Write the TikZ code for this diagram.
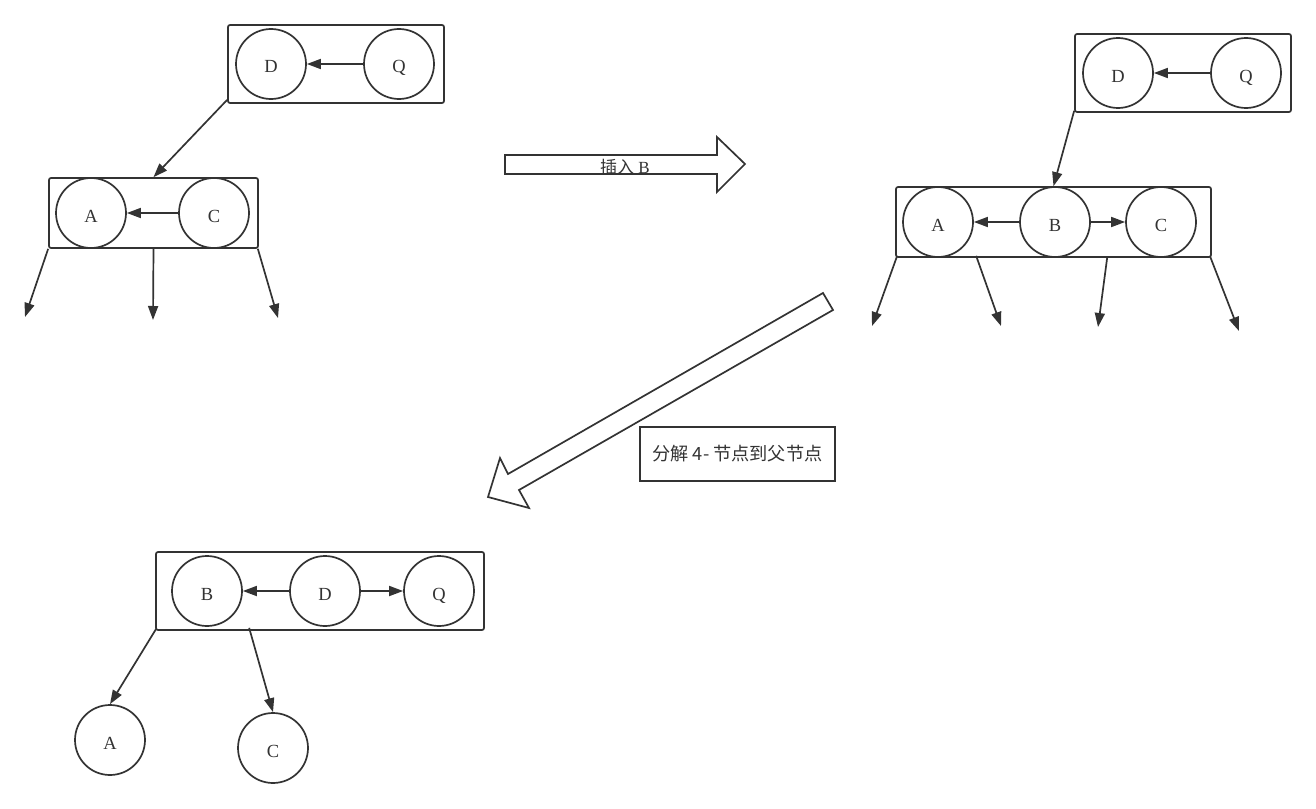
\documentclass[tikz,border=0pt]{standalone}
\usepackage{fontspec}
\setmainfont{Liberation Serif}
\newfontfamily\cjk{Noto Sans CJK SC}
\usetikzlibrary{arrows.meta,calc}
\definecolor{ink}{HTML}{333333}
\begin{document}
\begin{tikzpicture}[x=1pt,y=-1pt,
  keynode/.style={draw=ink,line width=1.7pt,circle,minimum size=70pt,inner sep=0pt,text height=18pt,text depth=0pt,font=\fontsize{18.5}{20}\selectfont,text=ink},
  group/.style={draw=ink,line width=1.7pt,rounded corners=2pt,inner sep=0pt},
  link/.style={draw=ink,line width=1.7pt,-{Triangle[length=14pt,width=10pt]}},
  bigarrow/.style={draw=ink,line width=1.7pt,fill=white,line join=miter},
  labeltext/.style={text=ink,inner sep=0pt}
]
\useasboundingbox (0,0) rectangle (1316,808);

% ---------- diagram 1 ----------
\node[group,minimum width=216pt,minimum height=78pt] (dq1) at (336,64) {};
\node[keynode] (D1) at (271,64) {D};
\node[keynode] (Q1) at (399,64) {Q};
\draw[link] (Q1) -- (D1);
\node[group,minimum width=209pt,minimum height=70pt] (ac1) at (153.5,213) {};
\node[keynode] (A1) at (91,213) {A};
\node[keynode] (C1) at (214,213) {C};
\draw[link] (C1) -- (A1);
\draw[link] ($(dq1.south west)+(0,-4)$) -- (ac1.north);
\coordinate (e11) at (25,317);
\coordinate (e12) at (153,320);
\coordinate (e13) at (278,318);
\draw[link] (ac1.south west) -- (e11);
\draw[link] (ac1.south) -- (e12);
\draw[link] ($(ac1.south east)+(-1,0)$) -- (e13);

% ---------- big arrow: insert B ----------
\draw[bigarrow] (505,155) -- (717,155) -- (717,137) -- (745,164) -- (717,192) -- (717,174) -- (505,174) -- cycle;
\node[labeltext,font=\fontsize{17}{19}\selectfont] (ins) at (625,167) {{\cjk 插入} B};

% ---------- diagram 2 ----------
\node[group,minimum width=216pt,minimum height=78pt] (dq2) at (1183,73) {};
\node[keynode] (D2) at (1118,73) {D};
\node[keynode] (Q2) at (1246,73) {Q};
\draw[link] (Q2) -- (D2);
\node[group,minimum width=315pt,minimum height=70pt] (abc2) at (1053.5,222) {};
\node[keynode] (A2) at (938,222) {A};
\node[keynode] (B2) at (1055,222) {B};
\node[keynode] (C2) at (1161,222) {C};
\draw[link] (B2) -- (A2);
\draw[link] (B2) -- (C2);
\draw[link] ($(dq2.south west)+(0,-2)$) -- (abc2.north);
\coordinate (e21) at (872,326);
\coordinate (e22) at (1001,326);
\coordinate (e23) at (1098,327);
\coordinate (e24) at (1239,331);
\draw[link] ($(abc2.south west)+(2,-2)$) -- (e21);
\draw[link] ($(abc2.south west)+(81,-2)$) -- (e22);
\draw[link] ($(abc2.south west)+(212,0)$) -- (e23);
\draw[link] ($(abc2.south east)+(-2,-2)$) -- (e24);

% ---------- big diagonal arrow ----------
\draw[bigarrow] (823,293) -- (833,310) -- (519,490) -- (529,508) -- (488,497) -- (500,458) -- (508,474) -- cycle;
\node[draw=ink,line width=1.7pt,minimum width=195pt,minimum height=54pt,inner sep=0pt,text=ink,font=\cjk\fontsize{18.2}{20}\selectfont] (lbl) at (737.5,454) {分解 4- 节点到父节点};

% ---------- diagram 3 ----------
\node[group,minimum width=328pt,minimum height=78pt] (bdq3) at (320,591) {};
\node[keynode] (B3) at (207,591) {B};
\node[keynode] (D3) at (325,591) {D};
\node[keynode] (Q3) at (439,591) {Q};
\draw[link] (D3) -- (B3);
\draw[link] (D3) -- (Q3);
\node[keynode] (A3) at (110,740) {A};
\node[keynode] (C3) at (273,748) {C};
\draw[link] ($(bdq3.south west)+(1,-2)$) -- (A3.north);
\draw[link] ($(bdq3.south west)+(94,-3)$) -- (C3.north);
\end{tikzpicture}
\end{document}
